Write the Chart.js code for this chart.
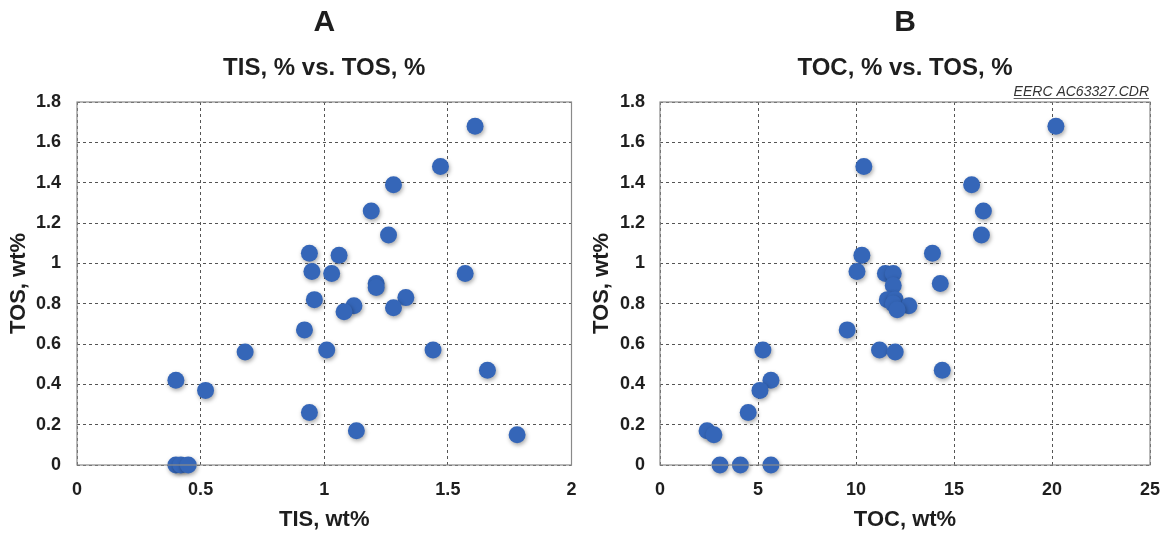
<!DOCTYPE html>
<html>
<head>
<meta charset="utf-8">
<script src="https://cdn.jsdelivr.net/npm/chart.js@4"></script>
<style>
  html, body { margin: 0; padding: 0; background: #fff; }
  #wrapA { position: absolute; left: 0; top: 0; width: 580px; height: 533px; }
  #wrapB { position: absolute; left: 580px; top: 0; width: 583px; height: 533px; }
</style>
</head>
<body>
<div id="wrapA"><canvas id="chartA"></canvas></div>
<div id="wrapB"><canvas id="chartB"></canvas></div>
<script>
// ===== DATOS =====
const tisA = [1.61, 1.47, 1.28, 1.19, 1.26, 0.94, 1.06, 0.95, 1.03, 1.57,
              1.21, 1.21, 0.96, 1.33, 1.12, 1.08, 1.28, 0.92, 0.68, 1.01,
              1.44, 1.66, 0.40, 0.52, 0.94, 1.13, 1.78, 0.40, 0.42, 0.45];
const tosA = [1.68, 1.48, 1.39, 1.26, 1.14, 1.05, 1.04, 0.96, 0.95, 0.95,
              0.90, 0.88, 0.82, 0.83, 0.79, 0.76, 0.78, 0.67, 0.56, 0.57,
              0.57, 0.47, 0.42, 0.37, 0.26, 0.17, 0.15, 0, 0, 0];

const tocB = [20.2, 10.4, 15.9, 16.5, 16.4, 10.3, 13.9, 10.05, 11.5, 11.9,
              11.9, 14.3, 11.6, 12.0, 11.9, 12.7, 12.1, 9.55, 11.2, 12.0,
              14.4, 5.25, 5.66, 5.1, 4.5, 2.4, 2.75, 3.06, 4.1, 5.66];
const tosB = [1.68, 1.48, 1.39, 1.26, 1.14, 1.04, 1.05, 0.96, 0.95, 0.95,
              0.89, 0.90, 0.82, 0.82, 0.80, 0.79, 0.77, 0.67, 0.57, 0.56,
              0.47, 0.57, 0.42, 0.37, 0.26, 0.17, 0.15, 0, 0, 0];

const ticksTOS = [0, 0.2, 0.4, 0.6, 0.8, 1, 1.2, 1.4, 1.6, 1.8];
const ticksTIS = [0, 0.5, 1, 1.5, 2];
const ticksTOC = [0, 5, 10, 15, 20, 25];

const FONT = 'Arial, "Liberation Sans", sans-serif';
const AZUL = '#3566b8';
const TEXTO = '#1e1e1e';

// marco sólido del área, nota y sombra de los puntos
const marcoPlugin = {
    id: 'marco',
    beforeDatasetsDraw(chart) {
        const ctx = chart.ctx;
        ctx.save();
        ctx.shadowColor = 'rgba(0,0,0,0.35)';
        ctx.shadowBlur = 4;
        ctx.shadowOffsetX = 1;
        ctx.shadowOffsetY = 2;
    },
    afterDatasetsDraw(chart) {
        chart.ctx.restore();
    },
    afterDraw(chart) {
        const { ctx, chartArea: a } = chart;
        ctx.save();
        ctx.strokeStyle = '#8a8a8a';
        ctx.lineWidth = 1.2;
        ctx.strokeRect(a.left, a.top, a.right - a.left, a.bottom - a.top);
        const nota = chart.options.plugins.marco && chart.options.plugins.marco.nota;
        if (nota) {
            ctx.font = 'italic 14px ' + FONT;
            ctx.fillStyle = '#333';
            ctx.textAlign = 'right';
            ctx.textBaseline = 'alphabetic';
            ctx.fillText(nota, a.right - 1, a.top - 6);
            const w = ctx.measureText(nota).width;
            ctx.strokeStyle = '#333';
            ctx.lineWidth = 0.8;
            ctx.beginPath();
            ctx.moveTo(a.right - 1 - w, a.top - 3.5);
            ctx.lineTo(a.right - 1, a.top - 3.5);
            ctx.stroke();
        }
        ctx.restore();
    }
};

function crearGrafico(id, xs, ys, opts) {
    const puntos = xs.map((x, i) => ({ x: x, y: ys[i] }));
    return new Chart(document.getElementById(id), {
        type: 'scatter',
        data: {
            datasets: [{
                data: puntos,
                backgroundColor: AZUL,
                borderColor: AZUL,
                borderWidth: 0,
                pointRadius: 8.5,
                pointHoverRadius: 8.5,
                clip: false
            }]
        },
        options: {
            responsive: true,
            maintainAspectRatio: false,
            animation: false,
            layout: { padding: { left: 0, right: opts.padRight, top: 0, bottom: 0 } },
            plugins: {
                legend: { display: false },
                tooltip: { enabled: false },
                marco: { nota: opts.nota },
                title: {
                    display: true,
                    text: opts.letra,
                    fullSize: false,
                    color: TEXTO,
                    font: { family: FONT, size: 30, weight: 'bold', lineHeight: 1.2 },
                    padding: { top: 5, bottom: 10 }
                },
                subtitle: {
                    display: true,
                    text: opts.titulo,
                    fullSize: false,
                    color: TEXTO,
                    font: { family: FONT, size: 24, weight: 'bold', lineHeight: 1.2 },
                    padding: { top: 2.6, bottom: 19.6 }
                }
            },
            scales: {
                x: {
                    type: 'linear',
                    min: opts.xMin,
                    max: opts.xMax,
                    afterBuildTicks: s => { s.ticks = opts.xTicks.map(v => ({ value: v })); },
                    afterFit: s => { s.height = 68; s.paddingLeft = 0; s.paddingRight = 0; },
                    border: { display: false, dash: [3, 3] },
                    grid: {
                        color: '#555',
                        lineWidth: 1,
                        drawTicks: false
                    },
                    ticks: {
                        padding: 14,
                        color: TEXTO,
                        maxRotation: 0,
                        callback: v => String(v),
                        font: { family: FONT, size: 18, weight: 'bold' }
                    },
                    title: {
                        display: true,
                        text: opts.xTitulo,
                        color: TEXTO,
                        font: { family: FONT, size: 22, weight: 'bold', lineHeight: 1.2 },
                        padding: { top: 0, bottom: 0 }
                    }
                },
                y: {
                    type: 'linear',
                    min: 0,
                    max: 1.8,
                    afterBuildTicks: s => { s.ticks = ticksTOS.map(v => ({ value: v })); },
                    afterFit: s => { s.width = opts.yAncho; },
                    border: { display: false, dash: [3, 3] },
                    grid: {
                        color: '#555',
                        lineWidth: 1,
                        drawTicks: false
                    },
                    ticks: {
                        padding: opts.yTickPad,
                        color: TEXTO,
                        callback: v => String(v),
                        font: { family: FONT, size: 18, weight: 'bold' }
                    },
                    title: {
                        display: true,
                        text: 'TOS, wt%',
                        color: TEXTO,
                        font: { family: FONT, size: 22, weight: 'bold', lineHeight: 1.2 },
                        padding: { top: opts.yTitPad, bottom: 0 }
                    }
                }
            }
        },
        plugins: [marcoPlugin]
    });
}

crearGrafico('chartA', tisA, tosA, {
    letra: 'A',
    titulo: 'TIS, % vs. TOS, %',
    xTitulo: 'TIS, wt%',
    xMin: 0, xMax: 2,
    xTicks: ticksTIS,
    yAncho: 77,
    yTitPad: 6,
    yTickPad: 16,
    padRight: 7,
    nota: null
});

crearGrafico('chartB', tocB, tosB, {
    letra: 'B',
    titulo: 'TOC, % vs. TOS, %',
    xTitulo: 'TOC, wt%',
    xMin: 0, xMax: 25,
    xTicks: ticksTOC,
    yAncho: 80,
    yTitPad: 9,
    yTickPad: 15,
    padRight: 13,
    nota: 'EERC AC63327.CDR'
});
</script>
</body>
</html>
